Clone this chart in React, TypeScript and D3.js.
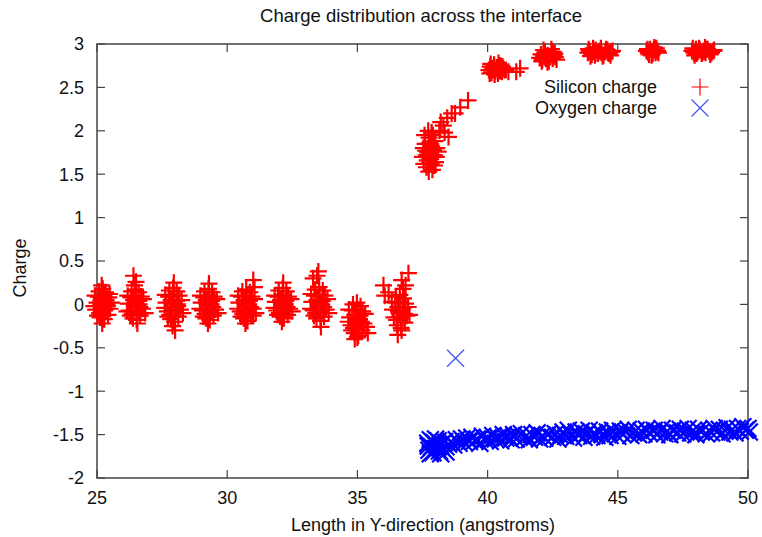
import React from "react";
import * as d3 from "d3";

const W = 762;
const H = 537;

const title = "Charge distribution across the interface";
const xLabel = "Length in Y-direction (angstroms)";
const yLabel = "Charge";
const xTicks = [25, 30, 35, 40, 45, 50];
const yTicks = [3, 2.5, 2, 1.5, 1, 0.5, 0, -0.5, -1, -1.5, -2];
const legendLabels = ["Silicon charge", "Oxygen charge"];

// Silicon charge, clusters near zero
const siliconLow: [number, number][] = [
  [25.0,0.02],[24.95,-0.06],[25.05,0.09],[25.1,-0.1],[25.15,0.04],[25.2,-0.03],[25.25,0.11],[25.3,-0.07],[25.35,0.05],[25.4,-0.02],[25.45,0.08],[25.5,-0.05],[25.08,0.15],[25.22,0.18],[25.33,0.14],[25.12,-0.15],[25.28,-0.17],[25.42,-0.12],[24.92,0.1],[25.48,0.12],[25.18,0.22],[25.2,-0.22],[25.02,-0.13],[25.38,0.0],[25.26,0.06],[25.14,-0.01],[25.55,0.02],[24.88,-0.02],
  [26.2,0.01],[26.25,-0.07],[26.3,0.08],[26.35,-0.11],[26.4,0.05],[26.45,-0.02],[26.5,0.1],[26.55,-0.08],[26.6,0.04],[26.65,-0.03],[26.7,0.09],[26.75,-0.05],[26.33,0.15],[26.48,0.17],[26.6,0.14],[26.38,-0.16],[26.52,-0.18],[26.66,-0.13],[26.18,0.1],[26.78,0.06],[26.4,0.33],[26.5,0.26],[26.44,0.22],[26.55,-0.22],[26.28,-0.13],[26.62,0.0],[26.47,0.03],[26.85,-0.1],[26.15,-0.08],
  [27.65,0.02],[27.7,-0.08],[27.75,0.09],[27.8,-0.12],[27.85,0.05],[27.9,-0.03],[27.95,0.11],[28.0,-0.07],[28.05,0.04],[28.1,-0.02],[28.15,0.1],[28.2,-0.06],[27.78,0.16],[27.92,0.19],[28.06,0.15],[27.83,-0.17],[27.98,-0.2],[28.12,-0.14],[27.62,0.11],[28.25,0.05],[27.95,0.25],[28.0,-0.3],[27.9,-0.25],[27.72,-0.14],[28.08,0.0],[27.88,0.0],[28.3,-0.1],[27.6,-0.04],
  [29.0,0.02],[29.05,-0.07],[29.1,0.08],[29.15,-0.11],[29.2,0.05],[29.25,-0.02],[29.3,0.1],[29.35,-0.08],[29.4,0.04],[29.45,-0.03],[29.5,0.09],[29.55,-0.06],[29.13,0.15],[29.28,0.18],[29.42,0.14],[29.18,-0.16],[29.33,-0.18],[29.47,-0.13],[28.97,0.1],[29.6,0.06],[29.3,0.24],[29.26,-0.22],[29.08,-0.14],[29.38,0.0],[29.22,0.01],[29.65,-0.1],[28.95,-0.05],
  [30.45,0.02],[30.5,-0.08],[30.55,0.09],[30.6,-0.11],[30.65,0.05],[30.7,-0.02],[30.75,0.1],[30.8,-0.07],[30.85,0.04],[30.9,-0.03],[30.95,0.09],[31.0,-0.05],[30.58,0.15],[30.73,0.17],[30.87,0.14],[30.63,-0.16],[30.78,-0.19],[30.92,-0.13],[30.42,0.1],[31.05,0.06],[31.0,0.28],[31.05,0.2],[31.0,-0.13],[30.7,-0.22],[30.53,-0.14],[30.83,0.0],[30.68,0.01],[31.1,-0.1],[30.4,-0.05],
  [31.85,0.03],[31.9,-0.07],[31.95,0.09],[32.0,-0.1],[32.05,0.05],[32.1,-0.02],[32.15,0.11],[32.2,-0.07],[32.25,0.04],[32.3,-0.03],[32.35,0.09],[32.4,-0.05],[31.98,0.16],[32.13,0.19],[32.27,0.15],[32.03,-0.14],[32.18,-0.16],[32.32,-0.12],[31.82,0.1],[32.45,0.06],[32.15,0.25],[32.1,-0.2],[31.93,-0.12],[32.23,0.0],[32.08,0.02],[32.5,-0.08],[31.8,-0.04],
  [33.25,0.03],[33.3,-0.07],[33.35,0.1],[33.4,-0.1],[33.45,0.05],[33.5,-0.02],[33.55,0.11],[33.6,-0.08],[33.65,0.04],[33.7,-0.03],[33.75,0.1],[33.8,-0.06],[33.38,0.17],[33.53,0.2],[33.67,0.16],[33.43,-0.16],[33.58,-0.19],[33.72,-0.14],[33.22,0.12],[33.85,0.06],[33.3,0.3],[33.45,0.33],[33.5,0.38],[33.6,-0.26],[33.33,-0.13],[33.63,0.0],[33.48,0.02],[33.9,-0.1],[33.2,-0.05],
  [34.7,-0.15],[34.75,-0.24],[34.8,-0.07],[34.85,-0.27],[34.9,-0.12],[34.95,-0.19],[35.0,-0.06],[35.05,-0.25],[35.1,-0.13],[35.15,-0.2],[35.2,-0.08],[35.25,-0.22],[34.83,0.0],[34.98,0.02],[35.12,-0.02],[34.88,-0.33],[35.03,-0.36],[35.17,-0.3],[34.67,-0.06],[35.3,-0.11],[35.4,-0.33],[34.9,-0.4],[35.0,-0.38],[34.78,-0.3],[35.08,-0.17],[34.93,-0.16],[35.35,-0.26],[34.65,-0.2],
  [36.35,-0.06],[36.4,-0.15],[36.45,0.02],[36.5,-0.18],[36.55,-0.03],[36.6,-0.1],[36.65,0.03],[36.7,-0.16],[36.75,-0.04],[36.8,-0.11],[36.85,0.01],[36.9,-0.13],[36.48,0.09],[36.63,0.11],[36.77,0.07],[36.53,-0.24],[36.68,-0.27],[36.82,-0.21],[36.32,0.03],[36.95,-0.03],[36.0,0.22],[36.05,0.1],[36.2,0.14],[36.7,0.28],[36.96,0.36],[36.85,0.22],[36.75,0.18],[37.0,-0.12],[36.55,-0.35],[36.7,-0.3],[36.58,-0.08],
];

// Silicon charge, rising part at the interface
const siliconRise: [number, number][] = [
  [37.5,1.7],[37.55,1.62],[37.6,1.85],[37.65,1.58],[37.7,1.75],[37.75,1.92],[37.8,1.68],[37.85,1.82],[37.9,1.95],[37.95,1.72],[38.0,1.64],[38.05,1.8],[38.1,1.76],[37.58,1.95],[37.72,2.0],[37.88,1.55],[37.66,1.72],[37.83,1.62],[37.98,1.88],[37.53,1.8],[37.78,1.86],[37.92,1.78],[37.68,1.66],[38.03,1.7],[37.85,1.98],[37.62,1.77],[37.96,1.6],[37.74,1.53],[37.82,1.7],
  [38.15,2.0],[38.2,2.1],[38.3,2.06],[38.45,2.15],[38.5,1.93],[38.62,2.2],[38.75,2.2],[38.95,2.27],[39.25,2.35],[38.35,1.98],
];

// Silicon charge, plateau
const siliconTop: [number, number][] = [
  [40.05,2.7],[40.1,2.74],[40.15,2.67],[40.2,2.72],[40.25,2.76],[40.3,2.69],[40.35,2.73],[40.4,2.66],[40.45,2.71],[40.5,2.75],[40.55,2.68],[40.6,2.72],[40.65,2.7],[40.12,2.77],[40.27,2.65],[40.42,2.78],[40.57,2.74],[40.22,2.7],[40.37,2.72],[40.48,2.69],[40.08,2.66],[40.7,2.7],[40.8,2.68],[41.1,2.68],[41.25,2.72],
  [42.0,2.84],[42.05,2.88],[42.1,2.82],[42.15,2.86],[42.2,2.9],[42.25,2.83],[42.3,2.87],[42.35,2.8],[42.4,2.85],[42.45,2.89],[42.5,2.83],[42.55,2.87],[42.6,2.85],[42.65,2.82],[42.15,2.93],[42.3,2.79],[42.45,2.94],[42.58,2.89],[42.22,2.84],[42.38,2.86],[42.08,2.8],[42.52,2.91],
  [43.85,2.9],[43.92,2.92],[44.0,2.88],[44.07,2.91],[44.15,2.93],[44.22,2.89],[44.3,2.92],[44.37,2.9],[44.45,2.87],[44.52,2.91],[44.6,2.93],[44.67,2.89],[44.75,2.91],[43.95,2.86],[44.12,2.87],[44.35,2.95],[44.55,2.94],[44.72,2.87],[44.05,2.95],[44.42,2.86],[44.25,2.9],[44.62,2.9],[44.8,2.92],[43.88,2.94],
  [46.1,2.92],[46.17,2.9],[46.24,2.94],[46.31,2.91],[46.38,2.93],[46.45,2.9],[46.52,2.92],[46.2,2.88],[46.4,2.96],[46.3,2.87],[46.48,2.95],[46.14,2.94],[46.34,2.89],[46.56,2.9],
  [47.85,2.92],[47.92,2.9],[48.0,2.94],[48.07,2.91],[48.15,2.93],[48.22,2.89],[48.3,2.92],[48.37,2.9],[48.45,2.94],[48.52,2.91],[48.6,2.9],[48.67,2.92],[47.95,2.87],[48.12,2.95],[48.35,2.96],[48.55,2.88],[48.25,2.9],[48.42,2.94],[48.03,2.89],[48.7,2.93],[47.88,2.95],
];

// Oxygen charge band
const oxygenBand: [number, number][] = [
  [37.7,-1.6],[37.75,-1.68],[37.8,-1.56],[37.85,-1.64],[37.9,-1.71],[37.95,-1.59],[38.0,-1.66],[38.05,-1.62],[38.1,-1.57],[38.15,-1.69],[38.2,-1.63],[38.25,-1.6],[38.3,-1.67],[38.35,-1.58],[38.4,-1.64],[38.5,-1.61],
  [37.8,-1.72],[38.0,-1.55],[38.2,-1.72],[38.4,-1.7],[37.72,-1.63],[38.1,-1.64],
  [38.6,-1.58],[38.7,-1.62],[38.8,-1.56],[38.9,-1.6],[39.0,-1.55],[39.1,-1.59],[39.2,-1.54],[39.3,-1.58],[39.4,-1.53],[39.5,-1.57],[39.6,-1.55],[39.7,-1.6],[39.8,-1.52],[39.9,-1.56],
  [40.0,-1.54],[40.1,-1.58],[40.2,-1.51],[40.3,-1.55],[40.4,-1.53],[40.5,-1.57],[40.6,-1.5],[40.7,-1.54],[40.8,-1.52],[40.9,-1.56],
  [41.0,-1.5],[41.1,-1.55],[41.2,-1.52],[41.3,-1.49],[41.4,-1.54],[41.5,-1.51],[41.6,-1.56],[41.7,-1.5],[41.8,-1.53],[41.9,-1.48],
  [42.0,-1.55],[42.1,-1.51],[42.2,-1.54],[42.3,-1.5],[42.5,-1.53],[42.6,-1.49],[42.7,-1.55],[42.8,-1.51],[42.9,-1.47],
  [43.0,-1.52],[43.1,-1.45],[43.2,-1.5],[43.3,-1.54],[43.4,-1.47],[43.5,-1.51],[43.6,-1.46],[43.7,-1.53],[43.8,-1.49],[43.9,-1.45],
  [44.0,-1.52],[44.1,-1.48],[44.2,-1.51],[44.3,-1.46],[44.4,-1.5],[44.5,-1.53],[44.6,-1.47],[44.7,-1.51],[44.8,-1.45],[44.9,-1.49],
  [45.0,-1.52],[45.1,-1.46],[45.2,-1.5],[45.3,-1.47],[45.4,-1.44],[45.5,-1.51],[45.6,-1.48],[45.7,-1.45],[45.8,-1.5],[45.9,-1.46],
  [46.0,-1.49],[46.1,-1.44],[46.2,-1.48],[46.4,-1.45],[46.5,-1.5],[46.6,-1.47],[46.7,-1.43],[46.8,-1.49],[46.9,-1.46],
  [47.0,-1.5],[47.1,-1.45],[47.3,-1.48],[47.4,-1.44],[47.5,-1.49],[47.6,-1.46],[47.7,-1.43],[47.8,-1.48],[47.9,-1.45],
  [48.0,-1.5],[48.1,-1.44],[48.2,-1.47],[48.4,-1.49],[48.5,-1.45],[48.6,-1.48],[48.7,-1.43],[48.8,-1.47],[48.9,-1.44],
  [49.0,-1.49],[49.1,-1.45],[49.2,-1.42],[49.3,-1.47],[49.4,-1.44],[49.5,-1.48],[49.6,-1.43],[49.7,-1.46],[49.8,-1.41],[49.9,-1.45],[50.0,-1.43],[50.05,-1.47],
];

const oxygenOutlier: [number, number][] = [[38.77, -0.62]];

const siliconColor = "#ff0000";
const oxygenColor = "#0000ff";
const axisColor = "#444444";
const textColor = "#111111";
const fontFamily = "Arial, 'Liberation Sans', sans-serif";

const margin = { left: 97, right: 14, top: 44, bottom: 59 };

export default function App() {
  const x = d3.scaleLinear().domain([25, 50]).range([margin.left, W - margin.right]);
  const y = d3.scaleLinear().domain([-2, 3]).range([H - margin.bottom, margin.top]);
  const [x0, x1] = x.range();
  const [yb, yt] = y.range();
  const tick = 8;
  const ps = 8.5;

  const silicon = [...siliconLow, ...siliconRise, ...siliconTop];

  const plusPath = (cx: number, cy: number) =>
    `M${cx - ps},${cy}H${cx + ps}M${cx},${cy - ps}V${cy + ps}`;
  const crossPath = (cx: number, cy: number) =>
    `M${cx - ps},${cy - ps}L${cx + ps},${cy + ps}M${cx - ps},${cy + ps}L${cx + ps},${cy - ps}`;

  const siliconD = silicon.map(([a, b]) => plusPath(x(a), y(b))).join("");
  const oxygenD = oxygenBand.map(([a, b]) => crossPath(x(a), y(b))).join("");
  const oxygenOutD = oxygenOutlier.map(([a, b]) => crossPath(x(a), y(b))).join("");

  return (
    <svg
      width={W}
      height={H}
      style={{ position: "absolute", left: 0, top: 0, background: "#fff" }}
      fontFamily={fontFamily}
    >
      <defs>
        <filter id="soft" x="-5%" y="-5%" width="110%" height="110%">
          <feGaussianBlur stdDeviation="0.5" />
        </filter>
      </defs>
      <rect width={W} height={H} fill="#fff" />
      {/* frame */}
      <rect x={x0} y={yt} width={x1 - x0} height={yb - yt} fill="none" stroke={axisColor} strokeWidth={1.5} />
      {/* x ticks */}
      {xTicks.map((t) => (
        <g key={"xt" + t}>
          <line x1={x(t)} x2={x(t)} y1={yb} y2={yb - tick} stroke={axisColor} strokeWidth={1.2} />
          <line x1={x(t)} x2={x(t)} y1={yt} y2={yt + tick} stroke={axisColor} strokeWidth={1.2} />
          <text x={x(t)} y={yb + 26} textAnchor="middle" fontSize={18} fill={textColor}>
            {t}
          </text>
        </g>
      ))}
      {/* y ticks */}
      {yTicks.map((t) => (
        <g key={"yt" + t}>
          <line x1={x0} x2={x0 + tick} y1={y(t)} y2={y(t)} stroke={axisColor} strokeWidth={1.2} />
          <line x1={x1} x2={x1 - tick} y1={y(t)} y2={y(t)} stroke={axisColor} strokeWidth={1.2} />
          <text x={x0 - 13} y={y(t)} dy="0.35em" textAnchor="end" fontSize={18} fill={textColor}>
            {t}
          </text>
        </g>
      ))}
      {/* data */}
      <g filter="url(#soft)">
        <path d={siliconD} stroke={siliconColor} strokeWidth={2.2} fill="none" />
        <path d={oxygenD} stroke={oxygenColor} strokeWidth={2.2} fill="none" />
      </g>
      <path d={oxygenOutD} stroke="#4455ee" strokeWidth={1.3} fill="none" />
      {/* legend */}
      <text x={657} y={87} dy="0.35em" textAnchor="end" fontSize={18} fill={textColor}>
        {legendLabels[0]}
      </text>
      <path d={plusPath(700, 87)} stroke={siliconColor} strokeWidth={1.2} fill="none" />
      <text x={657} y={108} dy="0.35em" textAnchor="end" fontSize={18} fill={textColor}>
        {legendLabels[1]}
      </text>
      <path d={crossPath(700, 108)} stroke="#4455ee" strokeWidth={1.2} fill="none" />
      {/* titles */}
      <text x={421} y={22} textAnchor="middle" fontSize={18.5} fill={textColor}>
        {title}
      </text>
      <text x={423} y={531} textAnchor="middle" fontSize={18} fill={textColor}>
        {xLabel}
      </text>
      <text
        transform={`translate(26,268) rotate(-90)`}
        textAnchor="middle"
        fontSize={18}
        fill={textColor}
      >
        {yLabel}
      </text>
    </svg>
  );
}
